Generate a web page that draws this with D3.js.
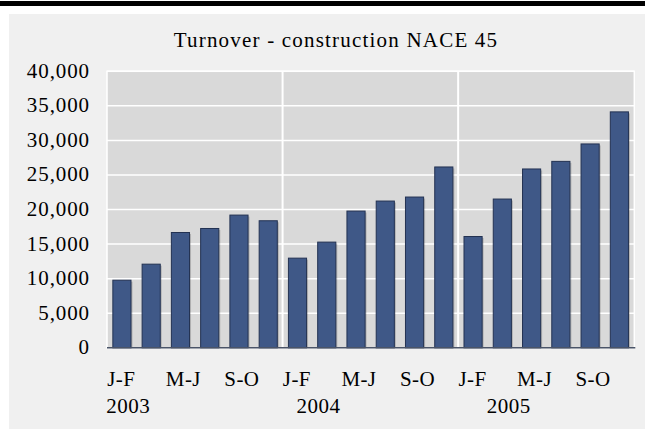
<!DOCTYPE html>
<html>
<head>
<meta charset="utf-8">
<script src="https://cdn.jsdelivr.net/npm/d3@7"></script>
<style>
    body { margin: 0; background: #fff; }
    svg text { font-family: "Liberation Serif", "Times New Roman", serif; fill: #000; }
</style>
</head>
<body>
<div id="chart"></div>
<script>
// Turnover values, two-month periods, three years
const periods = ["J-F", "M-A", "M-J", "J-A", "S-O", "N-D"];
const years = ["2003", "2004", "2005"];
const values2003 = [9780, 12100, 16680, 17260, 19200, 18380];
const values2004 = [12970, 15290, 19780, 21230, 21810, 26160];
const values2005 = [16100, 21520, 25870, 26970, 29490, 34130];
const yTicks = [0, 5000, 10000, 15000, 20000, 25000, 30000, 35000, 40000];
const shownPeriods = ["J-F", "M-J", "S-O"];
const title = "Turnover - construction NACE 45";

const seriesByYear = [values2003, values2004, values2005];
const data = [];
years.forEach((yr, i) => {
    periods.forEach((p, j) => {
        data.push({year: yr, period: p, key: yr + "-" + p, value: seriesByYear[i][j]});
    });
});

const width = 645, height = 430;
const margin = {top: 71.3, right: 10.7, bottom: 82.2, left: 107};

const svg = d3.select("#chart")
    .append("svg")
    .attr("width", width)
    .attr("height", height);

// top black rule and grey panel
svg.append("rect").attr("x", 0).attr("y", 1).attr("width", width).attr("height", 5).attr("fill", "#000");
svg.append("rect").attr("x", 9).attr("y", 14).attr("width", width - 9).attr("height", 415).attr("fill", "#f0f0f0");

const x = d3.scaleBand()
    .domain(data.map(d => d.key))
    .range([margin.left, width - margin.right])
    .paddingInner(0.38)
    .paddingOuter(0.2);

const y = d3.scaleLinear()
    .domain([0, 40000])
    .range([height - margin.bottom, margin.top]);

// plot area
svg.append("rect")
    .attr("x", margin.left)
    .attr("y", margin.top)
    .attr("width", width - margin.right - margin.left)
    .attr("height", y(0) - margin.top)
    .attr("fill", "#d9d9d9")
    .attr("stroke", "#fff")
    .attr("stroke-width", 1.5);

// horizontal gridlines
svg.append("g")
    .selectAll("line")
    .data(yTicks.slice(1))
    .join("line")
    .attr("x1", margin.left)
    .attr("x2", width - margin.right)
    .attr("y1", d => y(d))
    .attr("y2", d => y(d))
    .attr("stroke", "#fff")
    .attr("stroke-width", 1.5);

// year separators
const yearStart = yr => x(yr + "-" + periods[0]) - x.step() * x.paddingInner() / 2;
svg.append("g")
    .selectAll("line")
    .data(years.slice(1))
    .join("line")
    .attr("x1", d => yearStart(d) - x.step() * 0.01)
    .attr("x2", d => yearStart(d) - x.step() * 0.01)
    .attr("y1", margin.top)
    .attr("y2", y(0))
    .attr("stroke", "#fff")
    .attr("stroke-width", 2);

// bar shadows
svg.append("g")
    .selectAll("rect")
    .data(data)
    .join("rect")
    .attr("x", d => x(d.key) + 1.5)
    .attr("y", d => y(d.value) + 1.5)
    .attr("width", x.bandwidth())
    .attr("height", d => y(0) - y(d.value) - 1.5)
    .attr("fill", "#000")
    .attr("opacity", 0.18);

// bars
svg.append("g")
    .selectAll("rect")
    .data(data)
    .join("rect")
    .attr("x", d => x(d.key))
    .attr("y", d => y(d.value))
    .attr("width", x.bandwidth())
    .attr("height", d => y(0) - y(d.value))
    .attr("fill", "#3f5887")
    .attr("stroke", "#233252")
    .attr("stroke-width", 1);

// baseline
svg.append("line")
    .attr("x1", margin.left)
    .attr("x2", width - margin.right + 1)
    .attr("y1", y(0))
    .attr("y2", y(0))
    .attr("stroke", "#4a5468")
    .attr("stroke-width", 1.5);

// y axis labels
svg.append("g")
    .selectAll("text")
    .data(yTicks)
    .join("text")
    .attr("x", 90)
    .attr("y", d => y(d) + 6.5)
    .attr("text-anchor", "end")
    .style("font-size", "21px")
    .style("letter-spacing", "0.9px")
    .text(d => d3.format(",")(d));

// period labels, every second one
const periodLabels = data.filter(d => shownPeriods.includes(d.period));
svg.append("g")
    .selectAll("text")
    .data(periodLabels)
    .join("text")
    .attr("x", d => x(d.key) - x.step() * x.paddingInner() / 2 - x.step() * x.paddingOuter() + x.step() * 0.2)
    .attr("y", 386)
    .style("font-size", "21px")
    .style("letter-spacing", "0.4px")
    .text(d => d.period);

// year labels
svg.append("g")
    .selectAll("text")
    .data(years)
    .join("text")
    .attr("x", (d, i) => margin.left + x.step() * (0.73 + 6.5 * i))
    .attr("y", 413)
    .attr("text-anchor", "middle")
    .style("font-size", "21px")
    .style("letter-spacing", "0.5px")
    .text(d => d);

// title
svg.append("text")
    .attr("x", 336)
    .attr("y", 46.5)
    .attr("text-anchor", "middle")
    .style("font-size", "21px")
    .style("letter-spacing", "1.2px")
    .text(title);
</script>
</body>
</html>
